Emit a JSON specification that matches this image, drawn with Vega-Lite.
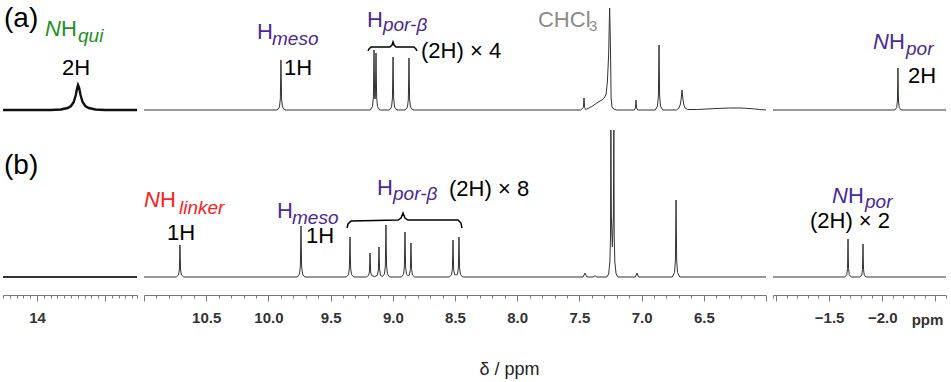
{
"$schema": "https://vega.github.io/schema/vega-lite/v6.json",
"padding": {"left": -2, "top": 0, "right": 5, "bottom": 3},
"bounds": "flush",
"columns": 3,
"spacing": {"row": 16, "column": 7},
"config": {
  "view": {"stroke": null},
  "font": "Liberation Sans",
  "text": {"font": "Liberation Sans"},
  "axis": {"domainColor": "#777", "tickColor": "#777", "labelColor": "#333", "labelFont": "Liberation Sans", "labelFontSize": 15, "labelFontWeight": "bold", "grid": false, "titleFont": "Liberation Sans", "labelOverlap": false, "labelFlush": false}
},
"datasets": {
  "a1": [{"ppm":14.5,"i":0},{"ppm":13.8,"i":0},{"ppm":13.65,"i":0.5},{"ppm":13.55,"i":2},{"ppm":13.5,"i":4},{"ppm":13.46,"i":8},{"ppm":13.43,"i":15},{"ppm":13.41,"i":22},{"ppm":13.397,"i":25},{"ppm":13.38,"i":22},{"ppm":13.36,"i":15},{"ppm":13.33,"i":8},{"ppm":13.29,"i":4},{"ppm":13.24,"i":2},{"ppm":13.14,"i":0.5},{"ppm":13.0,"i":0},{"ppm":12.53,"i":0}],
  "a2": [{"ppm":11.0,"i":0},{"ppm":9.929,"i":0},{"ppm":9.911,"i":3},{"ppm":9.904,"i":11},{"ppm":9.899,"i":50},{"ppm":9.894,"i":11},{"ppm":9.887,"i":3},{"ppm":9.869,"i":0},
    {"ppm":9.181,"i":0},{"ppm":9.163,"i":3.6},{"ppm":9.156,"i":13},{"ppm":9.151,"i":60},{"ppm":9.146,"i":14},{"ppm":9.143,"i":11},{"ppm":9.14,"i":14},{"ppm":9.135,"i":57},{"ppm":9.13,"i":13},{"ppm":9.123,"i":3.4},{"ppm":9.105,"i":0},
    {"ppm":9.028,"i":0},{"ppm":9.01,"i":3},{"ppm":9.003,"i":12},{"ppm":8.998,"i":53},{"ppm":8.993,"i":12},{"ppm":8.986,"i":3},{"ppm":8.968,"i":0},
    {"ppm":8.9,"i":0},{"ppm":8.882,"i":3},{"ppm":8.875,"i":11},{"ppm":8.87,"i":52},{"ppm":8.865,"i":11},{"ppm":8.858,"i":3},{"ppm":8.84,"i":0},
    {"ppm":7.49,"i":0},{"ppm":7.468,"i":2.5},{"ppm":7.463,"i":12},{"ppm":7.458,"i":2.5},{"ppm":7.45,"i":0.5},{"ppm":7.44,"i":1},{"ppm":7.4,"i":3.5},{"ppm":7.36,"i":7},{"ppm":7.32,"i":10},{"ppm":7.3,"i":12},{"ppm":7.285,"i":16},{"ppm":7.275,"i":28},{"ppm":7.265,"i":55},{"ppm":7.257,"i":102},{"ppm":7.25,"i":60},{"ppm":7.245,"i":12},{"ppm":7.238,"i":3},{"ppm":7.225,"i":1},{"ppm":7.2,"i":0},
    {"ppm":7.06,"i":0},{"ppm":7.049,"i":2},{"ppm":7.045,"i":10},{"ppm":7.041,"i":2},{"ppm":7.03,"i":0},
    {"ppm":6.89,"i":0},{"ppm":6.872,"i":4},{"ppm":6.865,"i":14},{"ppm":6.86,"i":65},{"ppm":6.855,"i":14},{"ppm":6.848,"i":4},{"ppm":6.83,"i":0},
    {"ppm":6.72,"i":0},{"ppm":6.7,"i":2},{"ppm":6.69,"i":5},{"ppm":6.682,"i":11},{"ppm":6.675,"i":20},{"ppm":6.668,"i":11},{"ppm":6.66,"i":5},{"ppm":6.65,"i":2},{"ppm":6.63,"i":0.5},
    {"ppm":6.55,"i":0.5},{"ppm":6.45,"i":1.2},{"ppm":6.3,"i":2},{"ppm":6.2,"i":2},{"ppm":6.1,"i":1.2},{"ppm":6.05,"i":0.5},{"ppm":6.0,"i":0}],
  "a3": [{"ppm":-0.972,"i":0},{"ppm":-2.118,"i":0},{"ppm":-2.136,"i":2.5},{"ppm":-2.143,"i":9},{"ppm":-2.148,"i":42},{"ppm":-2.153,"i":9},{"ppm":-2.16,"i":2.5},{"ppm":-2.178,"i":0},{"ppm":-2.6,"i":0}],
  "b1": [{"ppm":14.5,"i":0},{"ppm":12.53,"i":0}],
  "b2": [{"ppm":11.0,"i":0},{"ppm":10.741,"i":0},{"ppm":10.723,"i":2},{"ppm":10.716,"i":7},{"ppm":10.711,"i":32},{"ppm":10.706,"i":7},{"ppm":10.699,"i":2},{"ppm":10.681,"i":0},
    {"ppm":9.768,"i":0},{"ppm":9.75,"i":3},{"ppm":9.743,"i":11},{"ppm":9.738,"i":51},{"ppm":9.733,"i":11},{"ppm":9.726,"i":3},{"ppm":9.708,"i":0},
    {"ppm":9.374,"i":0},{"ppm":9.356,"i":2.4},{"ppm":9.349,"i":9},{"ppm":9.344,"i":40},{"ppm":9.339,"i":9},{"ppm":9.332,"i":2.4},{"ppm":9.314,"i":0},
    {"ppm":9.213,"i":0},{"ppm":9.195,"i":1.5},{"ppm":9.188,"i":5},{"ppm":9.183,"i":24},{"ppm":9.178,"i":5},{"ppm":9.171,"i":1.5},{"ppm":9.147,"i":0.3},
    {"ppm":9.123,"i":1.8},{"ppm":9.116,"i":7},{"ppm":9.111,"i":30},{"ppm":9.106,"i":7},{"ppm":9.099,"i":1.8},{"ppm":9.083,"i":0.5},
    {"ppm":9.067,"i":3},{"ppm":9.06,"i":11},{"ppm":9.055,"i":52},{"ppm":9.05,"i":11},{"ppm":9.043,"i":3},{"ppm":9.025,"i":0},
    {"ppm":8.932,"i":0},{"ppm":8.914,"i":2.7},{"ppm":8.907,"i":10},{"ppm":8.902,"i":45},{"ppm":8.897,"i":10},{"ppm":8.89,"i":2.7},{"ppm":8.878,"i":1.5},
    {"ppm":8.866,"i":2},{"ppm":8.859,"i":7.5},{"ppm":8.854,"i":34},{"ppm":8.849,"i":7.5},{"ppm":8.842,"i":2},{"ppm":8.824,"i":0},
    {"ppm":8.546,"i":0},{"ppm":8.528,"i":2.2},{"ppm":8.521,"i":8},{"ppm":8.516,"i":37},{"ppm":8.511,"i":8},{"ppm":8.504,"i":2.5},{"ppm":8.492,"i":2},
    {"ppm":8.48,"i":2.5},{"ppm":8.473,"i":9},{"ppm":8.468,"i":40},{"ppm":8.463,"i":9},{"ppm":8.456,"i":2.4},{"ppm":8.438,"i":0},
    {"ppm":7.47,"i":0},{"ppm":7.455,"i":4},{"ppm":7.44,"i":0},{"ppm":7.39,"i":0},{"ppm":7.375,"i":1.2},{"ppm":7.36,"i":0},
    {"ppm":7.28,"i":0},{"ppm":7.265,"i":3},{"ppm":7.255,"i":15},{"ppm":7.25,"i":40},{"ppm":7.247,"i":147},{"ppm":7.243,"i":60},{"ppm":7.235,"i":30},{"ppm":7.227,"i":60},{"ppm":7.223,"i":147},{"ppm":7.22,"i":40},{"ppm":7.215,"i":15},{"ppm":7.205,"i":3},{"ppm":7.19,"i":0},
    {"ppm":7.05,"i":0},{"ppm":7.037,"i":4},{"ppm":7.025,"i":0},
    {"ppm":6.753,"i":0},{"ppm":6.735,"i":4.6},{"ppm":6.728,"i":17},{"ppm":6.723,"i":77},{"ppm":6.718,"i":17},{"ppm":6.711,"i":4.6},{"ppm":6.693,"i":0},{"ppm":6.0,"i":0}],
  "b3": [{"ppm":-0.972,"i":0},{"ppm":-1.648,"i":0},{"ppm":-1.666,"i":2.3},{"ppm":-1.673,"i":8.4},{"ppm":-1.678,"i":38},{"ppm":-1.683,"i":8.4},{"ppm":-1.69,"i":2.3},{"ppm":-1.708,"i":0},
    {"ppm":-1.789,"i":0},{"ppm":-1.807,"i":2},{"ppm":-1.814,"i":7.3},{"ppm":-1.819,"i":33},{"ppm":-1.824,"i":7.3},{"ppm":-1.831,"i":2},{"ppm":-1.849,"i":0},{"ppm":-2.6,"i":0}],
  "brace": [{"row":"a","ppm":9.199,"i":59},{"row":"a","ppm":9.191,"i":61},{"row":"a","ppm":9.175,"i":63},{"row":"a","ppm":9.023,"i":63},{"row":"a","ppm":9.006,"i":65},{"row":"a","ppm":8.998,"i":68},{"row":"a","ppm":8.99,"i":65},{"row":"a","ppm":8.974,"i":63},{"row":"a","ppm":8.83,"i":63},{"row":"a","ppm":8.814,"i":61},{"row":"a","ppm":8.806,"i":59},
    {"row":"b","ppm":9.368,"i":49},{"row":"b","ppm":9.36,"i":53},{"row":"b","ppm":9.336,"i":56},{"row":"b","ppm":8.958,"i":57},{"row":"b","ppm":8.934,"i":59},{"row":"b","ppm":8.918,"i":64},{"row":"b","ppm":8.902,"i":59},{"row":"b","ppm":8.878,"i":57},{"row":"b","ppm":8.476,"i":57},{"row":"b","ppm":8.452,"i":54},{"row":"b","ppm":8.444,"i":49}],
  "labels": [
    {"row":"a","panel":1,"kind":"tag","grp":"panel","text":"(a)","ppm":14.485,"i":83},
    {"row":"a","panel":1,"kind":"ital","grp":"quinoxaline","text":"N","ppm":13.882,"i":74},
    {"row":"a","panel":1,"kind":"main","grp":"quinoxaline","text":"H","ppm":13.647,"i":74},
    {"row":"a","panel":1,"kind":"sub","grp":"quinoxaline","text":"qui","ppm":13.397,"i":68},
    {"row":"a","panel":1,"kind":"main","grp":"integral","text":"2H","ppm":13.632,"i":35},
    {"row":"a","panel":2,"kind":"main","grp":"porphyrin","text":"H","ppm":10.092,"i":71},
    {"row":"a","panel":2,"kind":"sub","grp":"porphyrin","text":"meso","ppm":9.971,"i":65},
    {"row":"a","panel":2,"kind":"main","grp":"integral","text":"1H","ppm":9.875,"i":35},
    {"row":"a","panel":2,"kind":"main","grp":"porphyrin","text":"H","ppm":9.207,"i":83},
    {"row":"a","panel":2,"kind":"sub","grp":"porphyrin","text":"por-β","ppm":9.079,"i":79},
    {"row":"a","panel":2,"kind":"main","grp":"integral","text":"(2H) × 4","ppm":8.773,"i":52},
    {"row":"a","panel":2,"kind":"main","grp":"solvent","text":"CHCl","ppm":7.833,"i":83},
    {"row":"a","panel":2,"kind":"subup","grp":"solvent","text":"3","ppm":7.423,"i":79},
    {"row":"a","panel":3,"kind":"ital","grp":"porphyrin","text":"N","ppm":-1.913,"i":61},
    {"row":"a","panel":3,"kind":"main","grp":"porphyrin","text":"H","ppm":-2.064,"i":61},
    {"row":"a","panel":3,"kind":"sub","grp":"porphyrin","text":"por","ppm":-2.224,"i":55},
    {"row":"a","panel":3,"kind":"main","grp":"integral","text":"2H","ppm":-2.242,"i":27},
    {"row":"b","panel":1,"kind":"tag","grp":"panel","text":"(b)","ppm":14.485,"i":103},
    {"row":"b","panel":2,"kind":"ital","grp":"linker","text":"N","ppm":11.0,"i":70},
    {"row":"b","panel":2,"kind":"main","grp":"linker","text":"H","ppm":10.871,"i":70},
    {"row":"b","panel":2,"kind":"sub","grp":"linker","text":"linker","ppm":10.719,"i":63},
    {"row":"b","panel":2,"kind":"main","grp":"integral","text":"1H","ppm":10.815,"i":37},
    {"row":"b","panel":2,"kind":"main","grp":"porphyrin","text":"H","ppm":9.931,"i":59},
    {"row":"b","panel":2,"kind":"sub","grp":"porphyrin","text":"meso","ppm":9.81,"i":53},
    {"row":"b","panel":2,"kind":"main","grp":"integral","text":"1H","ppm":9.698,"i":34},
    {"row":"b","panel":2,"kind":"main","grp":"porphyrin","text":"H","ppm":9.127,"i":82},
    {"row":"b","panel":2,"kind":"sub","grp":"porphyrin","text":"por-β","ppm":8.998,"i":77},
    {"row":"b","panel":2,"kind":"main","grp":"integral","text":"(2H) × 8","ppm":8.548,"i":81},
    {"row":"b","panel":3,"kind":"ital","grp":"porphyrin","text":"N","ppm":-1.527,"i":74},
    {"row":"b","panel":3,"kind":"main","grp":"porphyrin","text":"H","ppm":-1.678,"i":74},
    {"row":"b","panel":3,"kind":"sub","grp":"porphyrin","text":"por","ppm":-1.838,"i":69},
    {"row":"b","panel":3,"kind":"main","grp":"integral","text":"(2H) × 2","ppm":-1.32,"i":49}
  ]
},
"concat": [
  {"width": 134, "height": 112,
   "encoding": {"x": {"field": "ppm", "type": "quantitative", "scale": {"domain": [12.53, 14.5], "reverse": true, "nice": false, "zero": false}, "axis": null},
                "y": {"field": "i", "type": "quantitative", "scale": {"domain": [-2, 110], "nice": false, "zero": false}, "axis": null}},
   "layer": [
     {"data": {"name": "a1"}, "mark": {"type": "line", "stroke": "#111", "strokeWidth": 2.4}},
     {"data": {"name": "labels"}, "transform": [{"filter": "datum.row=='a' && datum.panel==1 && datum.kind=='tag'"}], "mark": {"type": "text", "align": "left", "baseline": "alphabetic", "fontSize": 28}, "encoding": {"text": {"field": "text"}, "color": {"field": "grp", "type": "nominal", "scale": {"domain": ["quinoxaline","porphyrin","linker","solvent","integral","panel"], "range": ["#239023","#4a2a95","#ff2020","#8a8a8a","#000000","#000000"]}, "legend": null}}},
     {"data": {"name": "labels"}, "transform": [{"filter": "datum.row=='a' && datum.panel==1 && datum.kind=='main'"}], "mark": {"type": "text", "align": "left", "baseline": "alphabetic", "fontSize": 22}, "encoding": {"text": {"field": "text"}, "color": {"field": "grp", "type": "nominal", "scale": {"domain": ["quinoxaline","porphyrin","linker","solvent","integral","panel"], "range": ["#239023","#4a2a95","#ff2020","#8a8a8a","#000000","#000000"]}, "legend": null}}},
     {"data": {"name": "labels"}, "transform": [{"filter": "datum.row=='a' && datum.panel==1 && datum.kind=='ital'"}], "mark": {"type": "text", "align": "left", "baseline": "alphabetic", "fontSize": 22, "fontStyle": "italic"}, "encoding": {"text": {"field": "text"}, "color": {"field": "grp", "type": "nominal", "scale": {"domain": ["quinoxaline","porphyrin","linker","solvent","integral","panel"], "range": ["#239023","#4a2a95","#ff2020","#8a8a8a","#000000","#000000"]}, "legend": null}}},
     {"data": {"name": "labels"}, "transform": [{"filter": "datum.row=='a' && datum.panel==1 && datum.kind=='sub'"}], "mark": {"type": "text", "align": "left", "baseline": "alphabetic", "fontSize": 19, "fontStyle": "italic"}, "encoding": {"text": {"field": "text"}, "color": {"field": "grp", "type": "nominal", "scale": {"domain": ["quinoxaline","porphyrin","linker","solvent","integral","panel"], "range": ["#239023","#4a2a95","#ff2020","#8a8a8a","#000000","#000000"]}, "legend": null}}}
   ]},
  {"width": 622, "height": 112,
   "encoding": {"x": {"field": "ppm", "type": "quantitative", "scale": {"domain": [6, 11], "reverse": true, "nice": false, "zero": false}, "axis": null},
                "y": {"field": "i", "type": "quantitative", "scale": {"domain": [-2, 110], "nice": false, "zero": false}, "axis": null}},
   "layer": [
     {"data": {"name": "a2"}, "mark": {"type": "line", "stroke": "#333", "strokeWidth": 1}},
     {"data": {"name": "brace"}, "transform": [{"filter": "datum.row=='a'"}], "mark": {"type": "line", "stroke": "#000", "strokeWidth": 1.5}},
     {"data": {"name": "labels"}, "transform": [{"filter": "datum.row=='a' && datum.panel==2 && datum.kind=='main'"}], "mark": {"type": "text", "align": "left", "baseline": "alphabetic", "fontSize": 22}, "encoding": {"text": {"field": "text"}, "color": {"field": "grp", "type": "nominal", "scale": {"domain": ["quinoxaline","porphyrin","linker","solvent","integral","panel"], "range": ["#239023","#4a2a95","#ff2020","#8a8a8a","#000000","#000000"]}, "legend": null}}},
     {"data": {"name": "labels"}, "transform": [{"filter": "datum.row=='a' && datum.panel==2 && datum.kind=='sub'"}], "mark": {"type": "text", "align": "left", "baseline": "alphabetic", "fontSize": 19, "fontStyle": "italic"}, "encoding": {"text": {"field": "text"}, "color": {"field": "grp", "type": "nominal", "scale": {"domain": ["quinoxaline","porphyrin","linker","solvent","integral","panel"], "range": ["#239023","#4a2a95","#ff2020","#8a8a8a","#000000","#000000"]}, "legend": null}}},
     {"data": {"name": "labels"}, "transform": [{"filter": "datum.row=='a' && datum.panel==2 && datum.kind=='subup'"}], "mark": {"type": "text", "align": "left", "baseline": "alphabetic", "fontSize": 15}, "encoding": {"text": {"field": "text"}, "color": {"field": "grp", "type": "nominal", "scale": {"domain": ["quinoxaline","porphyrin","linker","solvent","integral","panel"], "range": ["#239023","#4a2a95","#ff2020","#8a8a8a","#000000","#000000"]}, "legend": null}}}
   ]},
  {"width": 173, "height": 112,
   "encoding": {"x": {"field": "ppm", "type": "quantitative", "scale": {"domain": [-2.6, -0.972], "reverse": true, "nice": false, "zero": false}, "axis": null},
                "y": {"field": "i", "type": "quantitative", "scale": {"domain": [-2, 110], "nice": false, "zero": false}, "axis": null}},
   "layer": [
     {"data": {"name": "a3"}, "mark": {"type": "line", "stroke": "#333", "strokeWidth": 1}},
     {"data": {"name": "labels"}, "transform": [{"filter": "datum.row=='a' && datum.panel==3 && datum.kind=='main'"}], "mark": {"type": "text", "align": "left", "baseline": "alphabetic", "fontSize": 22}, "encoding": {"text": {"field": "text"}, "color": {"field": "grp", "type": "nominal", "scale": {"domain": ["quinoxaline","porphyrin","linker","solvent","integral","panel"], "range": ["#239023","#4a2a95","#ff2020","#8a8a8a","#000000","#000000"]}, "legend": null}}},
     {"data": {"name": "labels"}, "transform": [{"filter": "datum.row=='a' && datum.panel==3 && datum.kind=='ital'"}], "mark": {"type": "text", "align": "left", "baseline": "alphabetic", "fontSize": 22, "fontStyle": "italic"}, "encoding": {"text": {"field": "text"}, "color": {"field": "grp", "type": "nominal", "scale": {"domain": ["quinoxaline","porphyrin","linker","solvent","integral","panel"], "range": ["#239023","#4a2a95","#ff2020","#8a8a8a","#000000","#000000"]}, "legend": null}}},
     {"data": {"name": "labels"}, "transform": [{"filter": "datum.row=='a' && datum.panel==3 && datum.kind=='sub'"}], "mark": {"type": "text", "align": "left", "baseline": "alphabetic", "fontSize": 19, "fontStyle": "italic"}, "encoding": {"text": {"field": "text"}, "color": {"field": "grp", "type": "nominal", "scale": {"domain": ["quinoxaline","porphyrin","linker","solvent","integral","panel"], "range": ["#239023","#4a2a95","#ff2020","#8a8a8a","#000000","#000000"]}, "legend": null}}}
   ]},
  {"width": 134, "height": 151,
   "encoding": {"x": {"field": "ppm", "type": "quantitative", "scale": {"domain": [12.53, 14.5], "reverse": true, "nice": false, "zero": false},
                      "axis": {"title": null, "offset": 16, "values": [12.53,12.6,12.7,12.8,12.9,13,13.1,13.2,13.3,13.4,13.5,13.6,13.7,13.8,13.9,14,14.1,14.2,14.3,14.4,14.5],
                               "tickSize": {"condition": {"test": "abs(datum.value-round(datum.value))<0.001", "value": 6}, "value": 3},
                               "labelExpr": "abs(datum.value-14)<0.001 ? '14' : ''", "labelPadding": 9}},
                "y": {"field": "i", "type": "quantitative", "scale": {"domain": [-2, 149], "nice": false, "zero": false}, "axis": null}},
   "layer": [
     {"data": {"name": "b1"}, "mark": {"type": "line", "stroke": "#333", "strokeWidth": 2}},
     {"data": {"name": "labels"}, "transform": [{"filter": "datum.row=='b' && datum.panel==1 && datum.kind=='tag'"}], "mark": {"type": "text", "align": "left", "baseline": "alphabetic", "fontSize": 28}, "encoding": {"text": {"field": "text"}, "color": {"field": "grp", "type": "nominal", "scale": {"domain": ["quinoxaline","porphyrin","linker","solvent","integral","panel"], "range": ["#239023","#4a2a95","#ff2020","#8a8a8a","#000000","#000000"]}, "legend": null}}}
   ]},
  {"width": 622, "height": 151,
   "encoding": {"x": {"field": "ppm", "type": "quantitative", "scale": {"domain": [6, 11], "reverse": true, "nice": false, "zero": false},
                      "axis": {"title": "δ / ppm", "titleX": 365, "titleY": 79, "titleAlign": "center", "titleBaseline": "alphabetic", "titleFontSize": 18, "titleFontWeight": "normal", "titleColor": "#222", "offset": 16,
                               "values": [6,6.1,6.2,6.3,6.4,6.5,6.6,6.7,6.8,6.9,7,7.1,7.2,7.3,7.4,7.5,7.6,7.7,7.8,7.9,8,8.1,8.2,8.3,8.4,8.5,8.6,8.7,8.8,8.9,9,9.1,9.2,9.3,9.4,9.5,9.6,9.7,9.8,9.9,10,10.1,10.2,10.3,10.4,10.5,10.6,10.7,10.8,10.9,11],
                               "tickSize": {"condition": {"test": "abs(datum.value*2-round(datum.value*2))<0.001", "value": 6}, "value": 3},
                               "labelExpr": "(abs(datum.value*2-round(datum.value*2))<0.001 && datum.value>6.2 && datum.value<10.8) ? format(datum.value,'.1f') : ''", "labelPadding": 9}},
                "y": {"field": "i", "type": "quantitative", "scale": {"domain": [-2, 149], "nice": false, "zero": false}, "axis": null}},
   "layer": [
     {"data": {"name": "b2"}, "mark": {"type": "line", "stroke": "#333", "strokeWidth": 1}},
     {"data": {"name": "brace"}, "transform": [{"filter": "datum.row=='b'"}], "mark": {"type": "line", "stroke": "#000", "strokeWidth": 1.5}},
     {"data": {"name": "labels"}, "transform": [{"filter": "datum.row=='b' && datum.panel==2 && datum.kind=='main'"}], "mark": {"type": "text", "align": "left", "baseline": "alphabetic", "fontSize": 22}, "encoding": {"text": {"field": "text"}, "color": {"field": "grp", "type": "nominal", "scale": {"domain": ["quinoxaline","porphyrin","linker","solvent","integral","panel"], "range": ["#239023","#4a2a95","#ff2020","#8a8a8a","#000000","#000000"]}, "legend": null}}},
     {"data": {"name": "labels"}, "transform": [{"filter": "datum.row=='b' && datum.panel==2 && datum.kind=='ital'"}], "mark": {"type": "text", "align": "left", "baseline": "alphabetic", "fontSize": 22, "fontStyle": "italic"}, "encoding": {"text": {"field": "text"}, "color": {"field": "grp", "type": "nominal", "scale": {"domain": ["quinoxaline","porphyrin","linker","solvent","integral","panel"], "range": ["#239023","#4a2a95","#ff2020","#8a8a8a","#000000","#000000"]}, "legend": null}}},
     {"data": {"name": "labels"}, "transform": [{"filter": "datum.row=='b' && datum.panel==2 && datum.kind=='sub'"}], "mark": {"type": "text", "align": "left", "baseline": "alphabetic", "fontSize": 19, "fontStyle": "italic"}, "encoding": {"text": {"field": "text"}, "color": {"field": "grp", "type": "nominal", "scale": {"domain": ["quinoxaline","porphyrin","linker","solvent","integral","panel"], "range": ["#239023","#4a2a95","#ff2020","#8a8a8a","#000000","#000000"]}, "legend": null}}}
   ]},
  {"width": 173, "height": 151,
   "encoding": {"x": {"field": "ppm", "type": "quantitative", "scale": {"domain": [-2.6, -0.972], "reverse": true, "nice": false, "zero": false},
                      "axis": {"title": "ppm", "titleX": 154, "titleY": 24, "titleAlign": "center", "titleBaseline": "middle", "titleFontSize": 15, "titleFontWeight": "bold", "titleColor": "#333", "offset": 16,
                               "values": [-2.6,-2.5,-2.4,-2.3,-2.2,-2.1,-2,-1.9,-1.8,-1.7,-1.6,-1.5,-1.4,-1.3,-1.2,-1.1,-1,-0.972],
                               "tickSize": {"condition": {"test": "abs(datum.value*2-round(datum.value*2))<0.001", "value": 6}, "value": 3},
                               "labelExpr": "(abs(datum.value+1.5)<0.001 || abs(datum.value+2)<0.001) ? format(datum.value,'.1f') : ''", "labelPadding": 9}},
                "y": {"field": "i", "type": "quantitative", "scale": {"domain": [-2, 149], "nice": false, "zero": false}, "axis": null}},
   "layer": [
     {"data": {"name": "b3"}, "mark": {"type": "line", "stroke": "#333", "strokeWidth": 1}},
     {"data": {"name": "labels"}, "transform": [{"filter": "datum.row=='b' && datum.panel==3 && datum.kind=='main'"}], "mark": {"type": "text", "align": "left", "baseline": "alphabetic", "fontSize": 22}, "encoding": {"text": {"field": "text"}, "color": {"field": "grp", "type": "nominal", "scale": {"domain": ["quinoxaline","porphyrin","linker","solvent","integral","panel"], "range": ["#239023","#4a2a95","#ff2020","#8a8a8a","#000000","#000000"]}, "legend": null}}},
     {"data": {"name": "labels"}, "transform": [{"filter": "datum.row=='b' && datum.panel==3 && datum.kind=='ital'"}], "mark": {"type": "text", "align": "left", "baseline": "alphabetic", "fontSize": 22, "fontStyle": "italic"}, "encoding": {"text": {"field": "text"}, "color": {"field": "grp", "type": "nominal", "scale": {"domain": ["quinoxaline","porphyrin","linker","solvent","integral","panel"], "range": ["#239023","#4a2a95","#ff2020","#8a8a8a","#000000","#000000"]}, "legend": null}}},
     {"data": {"name": "labels"}, "transform": [{"filter": "datum.row=='b' && datum.panel==3 && datum.kind=='sub'"}], "mark": {"type": "text", "align": "left", "baseline": "alphabetic", "fontSize": 19, "fontStyle": "italic"}, "encoding": {"text": {"field": "text"}, "color": {"field": "grp", "type": "nominal", "scale": {"domain": ["quinoxaline","porphyrin","linker","solvent","integral","panel"], "range": ["#239023","#4a2a95","#ff2020","#8a8a8a","#000000","#000000"]}, "legend": null}}}
   ]}
]
}
